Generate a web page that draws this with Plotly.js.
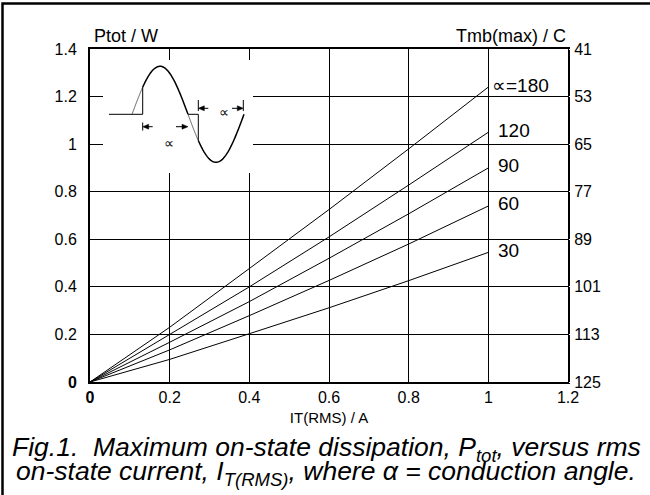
<!DOCTYPE html>
<html>
<head>
<meta charset="utf-8">
<script src="https://cdn.plot.ly/plotly-3.0.1.min.js"></script>
<style>html,body{margin:0;padding:0;background:#fff;}#chart{width:650px;height:495px;}</style>
</head>
<body>
<div id="chart"></div>
<script>
// ---- data ----
var currentA = [0, 0.2, 0.4, 0.6, 0.8, 1.0];           // IT(RMS) / A
var p180 = [0, 0.23, 0.477, 0.725, 0.98, 1.24];         // Ptot / W, conduction angle 180
var p120 = [0, 0.2, 0.40, 0.61, 0.828, 1.05];
var p90  = [0, 0.167, 0.338, 0.52, 0.707, 0.90];
var p60  = [0, 0.135, 0.279, 0.427, 0.58, 0.74];
var p30  = [0, 0.095, 0.203, 0.312, 0.426, 0.545];
var seriesLabels = ['\u221D=180', '120', '90', '60', '30'];
var xTicks = [0, 0.2, 0.4, 0.6, 0.8, 1, 1.2];
var xTickText = ['<b>0</b>', '0.2', '0.4', '0.6', '0.8', '1', '1.2'];
var yTicks = [0, 0.2, 0.4, 0.6, 0.8, 1, 1.2, 1.4];
var yTickText = ['<b>0</b>', '0.2', '0.4', '0.6', '0.8', '1', '1.2', '1.4'];
var tmbTicks = [41, 53, 65, 77, 89, 101, 113, 125];   // Tmb(max) / C

var series = [p180, p120, p90, p60, p30];
var FONT = 'Liberation Sans, Arial, sans-serif';

var traces = series.map(function (s) {
  return {x: currentA, y: s, type: 'scatter', mode: 'lines',
          line: {color: '#000', width: 1}, hoverinfo: 'skip', showlegend: false};
});
traces.push({x: [0, 0], y: [tmbTicks[0], tmbTicks[tmbTicks.length - 1]], yaxis: 'y2',
             type: 'scatter', mode: 'lines', opacity: 0, hoverinfo: 'skip', showlegend: false});

// plot area pixel geometry (for the inset sketch & frame)
var L = 90, R = 82, T = 49, B = 113, W = 650, H = 495;
var PW = W - L - R, PH = H - T - B;
function px(x) { return (x - L) / PW; }
function py(y) { return (H - B - y) / PH; }

// inset waveform sketch (schematic illustration)
var base = 114.3, amp = 48, x0 = 132, half = 56;
function sy(x) { return base - amp * Math.sin(Math.PI * (x - x0) / half); }
function curve(a, b) {
  var d = '', n = 40;
  for (var i = 0; i <= n; i++) {
    var x = a + (b - a) * i / n;
    d += (i ? ' L' : 'M') + px(x).toFixed(5) + ',' + py(sy(x)).toFixed(5);
  }
  return d;
}
function seg(xa, ya, xb, yb, w) {
  return {type: 'line', xref: 'paper', yref: 'paper', x0: px(xa), y0: py(ya), x1: px(xb), y1: py(yb),
          line: {color: '#000', width: w || 1}};
}
function arrowHead(xTip, y, dir) { // dir -1 = points left, +1 = points right
  var l = 6, h = 2.5;
  var d = 'M' + px(xTip) + ',' + py(y) + ' L' + px(xTip - dir * l) + ',' + py(y - h) +
          ' L' + px(xTip - dir * l) + ',' + py(y + h) + ' Z';
  return {type: 'path', xref: 'paper', yref: 'paper', path: d, fillcolor: '#000', line: {color: '#000', width: 0.5}};
}
var fire1 = 142.7, zero2 = 188, fire2 = 198.3, end = 244;
var shapes = [
  {type: 'rect', xref: 'paper', yref: 'paper', x0: px(103), x1: px(253), y0: py(173), y1: py(60),
   fillcolor: '#fff', line: {width: 0}, layer: 'above'},
  seg(109, base, fire1, base, 1),
  {type: 'path', xref: 'paper', yref: 'paper', path: curve(x0, fire1), line: {color: '#222', width: 0.7}},
  seg(fire1, base, fire1, sy(fire1), 1),
  {type: 'path', xref: 'paper', yref: 'paper', path: curve(fire1, zero2), line: {color: '#000', width: 1.5}},
  seg(zero2, base, fire2, base, 1),
  {type: 'path', xref: 'paper', yref: 'paper', path: curve(zero2, fire2), line: {color: '#222', width: 0.7}},
  seg(fire2, base, fire2, sy(fire2), 1),
  {type: 'path', xref: 'paper', yref: 'paper', path: curve(fire2, end), line: {color: '#000', width: 1.5}},
  // dimension arrows, first half-cycle
  seg(fire1, 122.5, fire1, 130.5, 1),
  arrowHead(fire1, 126.7, -1), seg(fire1 + 5, 126.7, fire1 + 10, 126.7, 1),
  arrowHead(zero2, 126.7, 1), seg(zero2 - 5, 126.7, zero2 - 12, 126.7, 1),
  // dimension arrows, second half-cycle
  seg(fire2, 100, fire2, 111, 1), seg(end - 0.7, 100, end - 0.7, 111, 1),
  arrowHead(fire2, 108.3, -1), seg(fire2 + 5, 108.3, fire2 + 10, 108.3, 1),
  arrowHead(end - 0.7, 108.3, 1), seg(end - 6, 108.3, end - 12, 108.3, 1),
  // outer frame
  {type: 'rect', xref: 'paper', yref: 'paper', x0: px(2.5), x1: px(720), y0: py(600), y1: py(3.5),
   line: {color: '#000', width: 2.5}, fillcolor: 'rgba(0,0,0,0)'}
];

var annotations = [
  {xref: 'paper', yref: 'paper', x: px(92), y: py(36), xanchor: 'left', yanchor: 'middle', showarrow: false,
   text: 'Ptot / W', font: {family: FONT, size: 18, color: '#000'}},
  {xref: 'paper', yref: 'paper', x: px(568), y: py(36), xanchor: 'right', yanchor: 'middle', showarrow: false,
   text: 'Tmb(max) / C', font: {family: FONT, size: 18, color: '#000'}},
  {xref: 'paper', yref: 'paper', x: px(161.7), y: py(133), showarrow: false, text: '\u221D',
   font: {family: FONT, size: 14, color: '#000'}},
  {xref: 'paper', yref: 'paper', x: px(217), y: py(101.5), showarrow: false, text: '\u221D',
   font: {family: FONT, size: 14, color: '#000'}},
  {xref: 'paper', yref: 'paper', x: px(326), y: py(449), showarrow: false, xanchor: 'center', yanchor: 'middle',
   text: '<i>Fig.1.\u00a0\u00a0Maximum on-state dissipation, P<sub>tot</sub>, versus rms</i>',
   font: {family: FONT, size: 26.5, color: '#000'}},
  {xref: 'paper', yref: 'paper', x: px(326), y: py(473), showarrow: false, xanchor: 'center', yanchor: 'middle',
   text: '<i>on-state current, I<sub>T(RMS)</sub>, where \u03B1 = conduction angle.</i>',
   font: {family: FONT, size: 26.5, color: '#000'}}
];
series.forEach(function (s, i) {
  annotations.push({x: currentA[currentA.length - 1], y: s[s.length - 1], xref: 'x', yref: 'y',
    xanchor: 'left', yanchor: 'middle', xshift: i === 0 ? 2 : 8, yshift: 2, showarrow: false,
    text: seriesLabels[i], font: {family: FONT, size: 19, color: '#000'}});
});

var layout = {
  width: W, height: H, margin: {l: L, r: R, t: T, b: B, pad: 0},
  paper_bgcolor: '#fff', plot_bgcolor: '#fff', showlegend: false,
  font: {family: FONT, color: '#000'},
  xaxis: {range: [0, 1.2], tickvals: xTicks, ticktext: xTickText, showgrid: true, gridcolor: '#000', gridwidth: 1,
          zeroline: false, showline: true, linecolor: '#000', linewidth: 2, mirror: true, ticks: '',
          tickfont: {size: 16, family: FONT}, fixedrange: true,
          title: {text: 'IT(RMS) / A', font: {size: 15, family: FONT}, standoff: 7}},
  yaxis: {range: [0, 1.4], tickvals: yTicks, ticktext: yTickText, showgrid: true, gridcolor: '#000', gridwidth: 1,
          zeroline: false, showline: true, linecolor: '#000', linewidth: 2, mirror: true, ticks: 'outside',
          ticklen: 8, tickcolor: '#fff', tickfont: {size: 16, family: FONT}, fixedrange: true},
  yaxis2: {overlaying: 'y', side: 'right', anchor: 'x', range: [125, 41], tickvals: tmbTicks,
           showgrid: false, zeroline: false, showline: false, ticks: 'outside', ticklen: 2, tickcolor: '#fff',
           tickfont: {size: 16, family: FONT}, fixedrange: true},
  shapes: shapes,
  annotations: annotations
};

Plotly.newPlot('chart', traces, layout, {staticPlot: true, displayModeBar: false});
</script>
</body>
</html>
